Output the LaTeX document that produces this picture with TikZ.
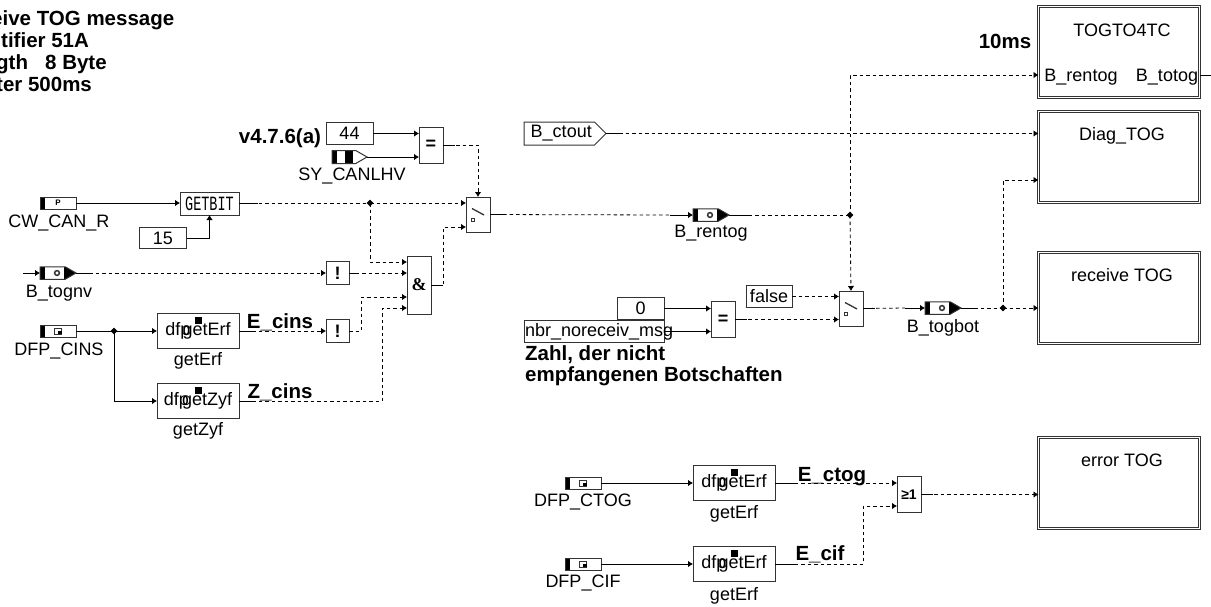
\documentclass[tikz,border=0pt]{standalone}
\usepackage{fontspec}
\setmainfont{Liberation Sans}
\setmonofont{Liberation Mono}
\newfontfamily\gatefont{Liberation Serif}
\usetikzlibrary{arrows.meta,shapes.geometric,shapes.symbols}
\definecolor{edge}{HTML}{333333}
\tikzset{
  sig/.style={-{Latex[length=5pt,width=6.5pt]}, line width=0.8pt, black},
  sigd/.style={sig, dash pattern=on 3.5pt off 3pt},
  stub/.style={line width=0.8pt, black},
  lab/.style={font=\fontsize{18}{20}\selectfont, inner sep=0pt, anchor=base},
  blab/.style={font=\fontsize{20.5}{22}\selectfont\bfseries, inner sep=0pt, anchor=base},
  block/.style={draw=edge, line width=1pt, fill=white, inner sep=0pt, outer sep=0pt},
  cbox/.style={block, minimum width=47pt, minimum height=21.5pt, font=\fontsize{18}{20}\selectfont},
  gate/.style={block, minimum width=24pt, minimum height=36pt, font=\fontsize{18}{20}\selectfont\bfseries},
  notbox/.style={block, minimum width=23pt, minimum height=23pt, font=\fontsize{18}{20}\selectfont\bfseries},
  swbox/.style={block, minimum width=24pt, minimum height=35pt, path picture={
      \begin{scope}[shift={(path picture bounding box.center)}]
        \draw[line width=1.3pt] (-6,-6) -- (6,0.5);
        \draw[line width=0.7pt] (-7,3.5) rectangle (-4,6.5);
      \end{scope}}},
  fnbox/.style={block, minimum width=82pt, minimum height=35.5pt, font=\fontsize{18}{20}\selectfont, path picture={
      \fill[black] ([xshift=-3.5pt,yshift=-4pt]path picture bounding box.north) rectangle ++(7,7);}},
  subsys/.style={draw=edge, line width=0.9pt, double, double distance=1.4pt, minimum width=161pt, minimum height=91pt, inner sep=0pt, outer sep=0pt},
  parm/.style={block, anchor=west, minimum width=36pt, minimum height=12pt, font=\fontsize{8}{8}\selectfont\bfseries, path picture={
      \fill[black] (path picture bounding box.north west) rectangle ([xshift=5pt]path picture bounding box.south west);}},
  dfpin/.style={parm, path picture={
      \fill[black] (path picture bounding box.north west) rectangle ([xshift=5pt]path picture bounding box.south west);
      \begin{scope}[shift={(path picture bounding box.center)}]
        \draw[line width=1pt] (-3.5,-3) rectangle (3.5,3);
        \fill[black] (0,0) rectangle (3.5,3);
      \end{scope}}},
  busin/.style={block, anchor=west, signal, signal to=east, signal pointer angle=60, minimum width=36pt, minimum height=12.5pt, path picture={
      \fill[black] (path picture bounding box.north west) rectangle ([xshift=5pt]path picture bounding box.south west);
      \fill[black] ([xshift=-12pt]path picture bounding box.north east) rectangle (path picture bounding box.south east);
      \draw[line width=1.5pt] ([xshift=-1pt]path picture bounding box.center) circle (2.4pt);}},
  hvin/.style={block, anchor=west, signal, signal to=east, signal pointer angle=60, minimum width=35pt, minimum height=13pt, path picture={
      \fill[black] (path picture bounding box.north west) rectangle ([xshift=5pt]path picture bounding box.south west);
      \fill[black] ([xshift=-5pt]path picture bounding box.center) rectangle ++(8,-8);
      \fill[black] ([xshift=-5pt]path picture bounding box.center) rectangle ++(8,6);}},
  junc/.style={diamond, fill=black, inner sep=0pt, minimum size=7pt},
}
\begin{document}
\begin{tikzpicture}[x=1pt,y=-1pt]
\useasboundingbox (0,0) rectangle (1211,606);

% ---- header text -----------------------------------------------------------
\node[blab, anchor=north west, align=left, font=\fontsize{20.5}{22.3}\selectfont\bfseries] (head) at (-9,10)
  {eive TOG message\\\hspace*{10pt}tifier 51A\\\hspace*{5pt}gth\ \ \ 8 Byte\\\hspace*{5pt}ter 500ms};

% ---- inputs left ------------------------------------------------------------
\node[parm] (cwcan) at (40,203) {P};
\node[lab] (cwcanL) at (59,227) {CW\_CAN\_R};
\node[cbox] (c15) at (163,238) {15};
\node[block, minimum width=59pt, minimum height=23pt, font=\fontsize{13.5}{14}\selectfont\ttfamily] (getbit) at (209.5,203.5) {\scalebox{1}[1.5]{GETBIT}};
\coordinate (togS) at (23,273);
\node[busin] (tognv) at (40,273) {};
\node[lab] (tognvL) at (59,297) {B\_tognv};
\node[dfpin] (cins) at (40,331) {};
\node[lab] (cinsL) at (59,355) {DFP\_CINS};
\node[junc] (jcins) at (114,331) {};
\node[fnbox] (erfA) at (198,331) {dfp\kern-8pt getErf};
\node[lab] (erfAL) at (198,365) {getErf};
\node[fnbox] (zyf) at (198,401) {dfp\kern-7pt getZyf};
\node[lab] (zyfL) at (198,435) {getZyf};
\node[blab] (ecins) at (280,328) {E\_cins};
\node[blab] (zcins) at (280,398) {Z\_cins};
\node[notbox] (notA) at (337.5,273) {!};
\node[notbox] (notB) at (337.5,331) {!};
\node[gate, minimum height=58pt, font=\fontsize{18}{20}\selectfont\gatefont\bfseries] (andg) at (419,285) {\&};

% ---- upper compare ----------------------------------------------------------
\node[blab] (ver) at (280,143) {v4.7.6(a)};
\node[cbox] (c44) at (349.5,133.5) {44};
\node[hvin] (canlhv) at (332,157) {};
\node[lab] (canlhvL) at (352,180) {SY\_CANLHV};
\node[gate] (eqA) at (431,145) {=};
\node[junc] (jget) at (370,203) {};
\node[swbox] (swA) at (478,214.5) {};

% ---- middle -----------------------------------------------------------------
\node[block, signal, signal to=east, signal pointer angle=90, anchor=west, minimum width=82pt, minimum height=23pt, font=\fontsize{18}{20}\selectfont] (ctout) at (524,133.5) {\hspace*{4pt}B\_ctout};
\coordinate (rentS) at (670,215);
\node[busin] (rentog) at (693,215) {};
\node[lab] (rentogL) at (711,237) {B\_rentog};
\node[junc] (jrent) at (850,215) {};
\node[cbox] (c0) at (640.5,308.5) {0};
\node[block, minimum width=140pt, minimum height=21.5pt, font=\fontsize{18}{20}\selectfont] (nbr) at (594,331.5) {\makebox[140pt][l]{\kern1pt nbr\_noreceiv\_msg}};
\node[blab, anchor=north west, align=left, font=\fontsize{20.5}{21.5}\selectfont\bfseries] (zahl) at (525,345)
  {Zahl, der nicht\\empfangenen Botschaften};
\node[gate] (eqB) at (723,319.5) {=};
\node[cbox, minimum width=46pt] (cfalse) at (769,296.5) {false};
\node[swbox] (swB) at (851,308.5) {};
\coordinate (botS) at (905,308);
\node[busin] (togbot) at (925,308) {};
\node[lab] (togbotL) at (943,332) {B\_togbot};
\node[junc] (jbot) at (1003,308) {};

% ---- bottom -----------------------------------------------------------------
\node[dfpin] (ctog) at (565,483) {};
\node[lab] (ctogL) at (583,506) {DFP\_CTOG};
\node[dfpin] (cif) at (565,564) {};
\node[lab] (cifL) at (583,587) {DFP\_CIF};
\node[fnbox] (erfB) at (734,483) {dfp\kern-8pt getErf};
\node[lab] (erfBL) at (734,518) {getErf};
\node[fnbox] (erfC) at (734,564) {dfp\kern-8pt getErf};
\node[lab] (erfCL) at (734,600) {getErf};
\node[blab] (ectog) at (832,481) {E\_ctog};
\node[blab] (ecif) at (820,560) {E\_cif};
\node[gate, font=\fontsize{14}{14}\selectfont\bfseries] (org) at (909,494.5) {≥1};

% ---- subsystems -------------------------------------------------------------
\node[subsys] (togto) at (1119,52) {};
\node[subsys] (diag) at (1119,157) {};
\node[subsys] (recv) at (1119,298) {};
\node[subsys] (errt) at (1119,483) {};
\node[lab] (togtoT) at (1122,36) {TOGTO4TC};
\node[lab] (diagT) at (1122,140) {Diag\_TOG};
\node[lab] (recvT) at (1122,281) {receive TOG};
\node[lab] (errtT) at (1122,466) {error TOG};
\node[lab] (portA) at (1081,81) {B\_rentog};
\node[lab] (portB) at (1167,81) {B\_totog};
\node[blab] (cyc) at (1005,48) {10ms};
\coordinate (topC) at (850,75);
\coordinate (exitT) at (1211,75);

% ---- solid connections ------------------------------------------------------
\draw[sig] (cwcan.east) -- (getbit.west |- cwcan.east);
\draw[sig] (c15.east) -| (getbit.south);
\draw[sig] (togS) -- (tognv.west);
\draw[stub] (cins.east) -- (jcins.center);
\draw[sig] (jcins.center) -- (erfA.west);
\draw[sig] (jcins.center) |- (zyf.west);
\draw[sig] (c44.east) -- (c44.east -| eqA.west);
\draw[sig] (canlhv.east) -- (canlhv.east -| eqA.west);
\draw[sig] (c0.east) -- (c0.east -| eqB.west);
\draw[sig] (nbr.east) -- (nbr.east -| eqB.west);
\draw[sig] (ctog.east) -- (erfB.west);
\draw[sig] (cif.east) -- (erfC.west);
\draw[sig] (rentS) -- (rentog.west);
\draw[sig] (botS) -- (togbot.west);
\draw[stub] (togto.east |- exitT) -- (exitT);

% ---- solid stubs on outputs -------------------------------------------------
\draw[stub] (getbit.east |- jget) -- ++(19,0);
\draw[stub] (tognv.east) -- ++(17,0);
\draw[stub] (erfA.east) -- ++(13,0);
\draw[stub] (zyf.east) -- ++(13,0);
\draw[stub] (notA.east) -- ++(8,0);
\draw[stub] (andg.east) -- ++(12,0);
\draw[stub] (eqA.east) -- ++(12,0);
\draw[stub] (swA.east) -- ++(15,0);
\draw[stub] (rentog.east) -- ++(21,0);
\draw[stub] (ctout.east) -- ++(14,0);
\draw[stub] (eqB.east) -- ++(12,0);
\draw[stub] (togbot.east) -- ++(15,0);
\draw[stub] (swB.east) -- ++(12,0);
\draw[stub] (erfB.east) -- ++(20,0);
\draw[stub] (erfC.east) -- ++(20,0);
\draw[stub] (org.east) -- ++(12,0);

% ---- dashed connections -----------------------------------------------------
\draw[sigd, -] (getbit.east |- jget) -- (jget.center);
\draw[sigd] (jget.center) -- (jget.center -| swA.west);
\draw[sigd] (jget.center) |- (andg.west |- 0,262);
\draw[sigd] (tognv.east) -- (notA.west);
\draw[sigd] (notA.east) -- (notA.east -| andg.west);
\draw[sigd] (erfA.east) -- (notB.west);
\draw[sigd] (notB.east) -- ++(12,0) |- (andg.west |- 0,297);
\draw[sigd] (zyf.east) -| (382,308) -- (andg.west |- 0,308);
\draw[sigd] (andg.east) -- ++(12,0) |- (swA.west |- 0,227);
\draw[sigd] (eqA.east) -| (swA.north);
\draw[sigd, -] (swA.east) -- (rentS);
\draw[sigd, -] (rentog.east) -- (jrent.center);
\draw[sigd] (jrent.center) -- (swB.north);
\draw[sigd] (jrent.center) -- (topC) -- (topC -| togto.west);
\draw[sigd] (ctout.east) -- (ctout.east -| diag.west);
\draw[sigd] (cfalse.east) -- (cfalse.east -| swB.west);
\draw[sigd] (eqB.east) -- (eqB.east -| swB.west);
\draw[sigd, -] (swB.east) -- (botS);
\draw[sigd, -] (togbot.east) -- (jbot.center);
\draw[sigd] (jbot.center) -- (jbot.center -| recv.west);
\draw[sigd] (jbot.center) |- (diag.west |- 0,180);
\draw[sigd] (erfB.east) -- (erfB.east -| org.west);
\draw[sigd] (erfC.east) -| (863,506) -- (org.west |- 0,506);
\draw[sigd] (org.east) -- (org.east -| errt.west);

\end{tikzpicture}
\end{document}
